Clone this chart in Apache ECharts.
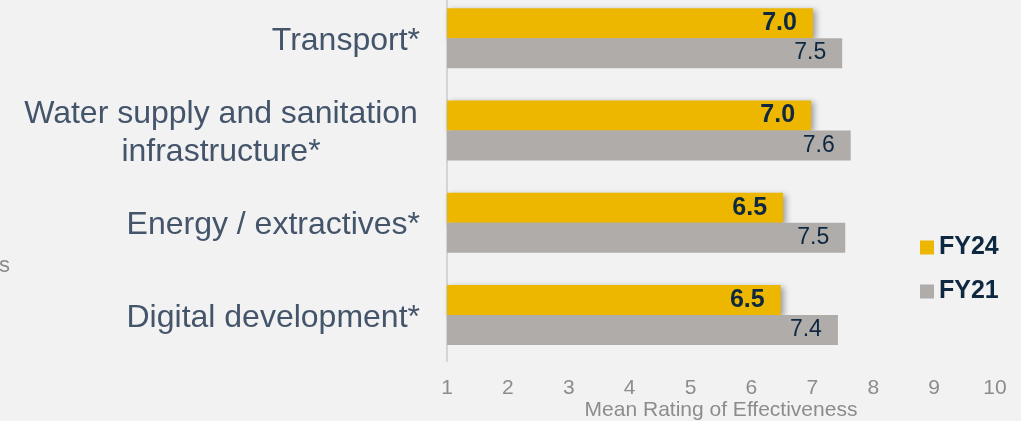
<!DOCTYPE html>
<html>
<head>
<meta charset="utf-8">
<script src="https://cdn.jsdelivr.net/npm/echarts@6/dist/echarts.min.js"></script>
<style>
  html, body { margin: 0; padding: 0; background: #f2f2f2; }
  #main { width: 1021px; height: 421px; }
</style>
</head>
<body>
<div id="main"></div>
<script>
// sectors, top to bottom
const categories = [
    'Transport*',
    'Water supply and sanitation\ninfrastructure*',
    'Energy / extractives*',
    'Digital development*'
];
const fy24 = [7.01, 6.98, 6.52, 6.48];
const fy21 = [7.49, 7.63, 7.54, 7.42];
const xTicks = [1, 10];

const FONT = "'Liberation Sans', Arial, sans-serif";
const NAVY = '#0e2841';

const chart = echarts.init(document.getElementById('main'), null, { renderer: 'canvas' });

chart.setOption({
    backgroundColor: '#f2f2f2',
    animation: false,
    textStyle: { fontFamily: FONT },
    grid: { left: 447, right: 26, top: -8, bottom: 60, outerBoundsMode: 'none' },
    legend: {
        orient: 'vertical',
        left: 915,
        top: 230,
        icon: 'rect',
        itemWidth: 14,
        itemHeight: 14,
        itemGap: 19,
        textStyle: { fontSize: 25, fontWeight: 'bold', color: NAVY, fontFamily: FONT }
    },
    graphic: [{
        type: 'text',
        left: -1,
        top: 255,
        style: { text: 's', fontSize: 22, fill: '#8c8c8c', fontFamily: FONT }
    }],
    xAxis: {
        type: 'value',
        min: xTicks[0],
        max: xTicks[1],
        interval: 1,
        name: 'Mean Rating of Effectiveness',
        nameLocation: 'middle',
        nameGap: 39,
        nameMoveOverlap: false,
        nameTextStyle: { fontSize: 21, color: '#8c8c8c', fontFamily: FONT },
        axisLine: { show: false },
        axisTick: { show: false },
        splitLine: { show: false },
        axisLabel: { fontSize: 21, color: '#8c8c8c', margin: 17, fontFamily: FONT }
    },
    yAxis: {
        type: 'category',
        inverse: true,
        data: categories,
        axisLine: { show: true, lineStyle: { color: '#d4d4d4', width: 2 } },
        axisTick: { show: false },
        axisLabel: {
            margin: 27,
            fontSize: 32,
            color: '#44546a',
            fontFamily: FONT,
            lineHeight: 38,
            padding: [6, 0, 0, 0],
            formatter: function (v) {
                if (v.indexOf('\n') < 0) return v;
                // the two-line label is centred on itself
                return v.split('\n').map(function (s) { return '{c|' + s + '}'; }).join('\n');
            },
            rich: {
                c: { width: 398, align: 'center', fontSize: 32, color: '#44546a', lineHeight: 38, fontFamily: FONT }
            }
        }
    },
    series: [
        {
            name: 'FY24',
            type: 'bar',
            data: fy24,
            barWidth: 30,
            barGap: '0%',
            itemStyle: {
                color: '#edb700',
                shadowColor: 'rgba(0,0,0,0.35)',
                shadowBlur: 6,
                shadowOffsetX: 3,
                shadowOffsetY: 2
            },
            label: {
                show: true,
                position: 'insideRight',
                distance: 16,
                fontSize: 25,
                fontWeight: 'bold',
                color: NAVY,
                fontFamily: FONT,
                formatter: function (p) { return p.value.toFixed(1); }
            }
        },
        {
            name: 'FY21',
            type: 'bar',
            data: fy21,
            barWidth: 30,
            barGap: '0%',
            itemStyle: { color: '#b0acaa' },
            label: {
                show: true,
                position: 'insideRight',
                distance: 16,
                fontSize: 23,
                color: NAVY,
                fontFamily: FONT,
                formatter: function (p) { return p.value.toFixed(1); }
            }
        }
    ]
});
</script>
</body>
</html>
